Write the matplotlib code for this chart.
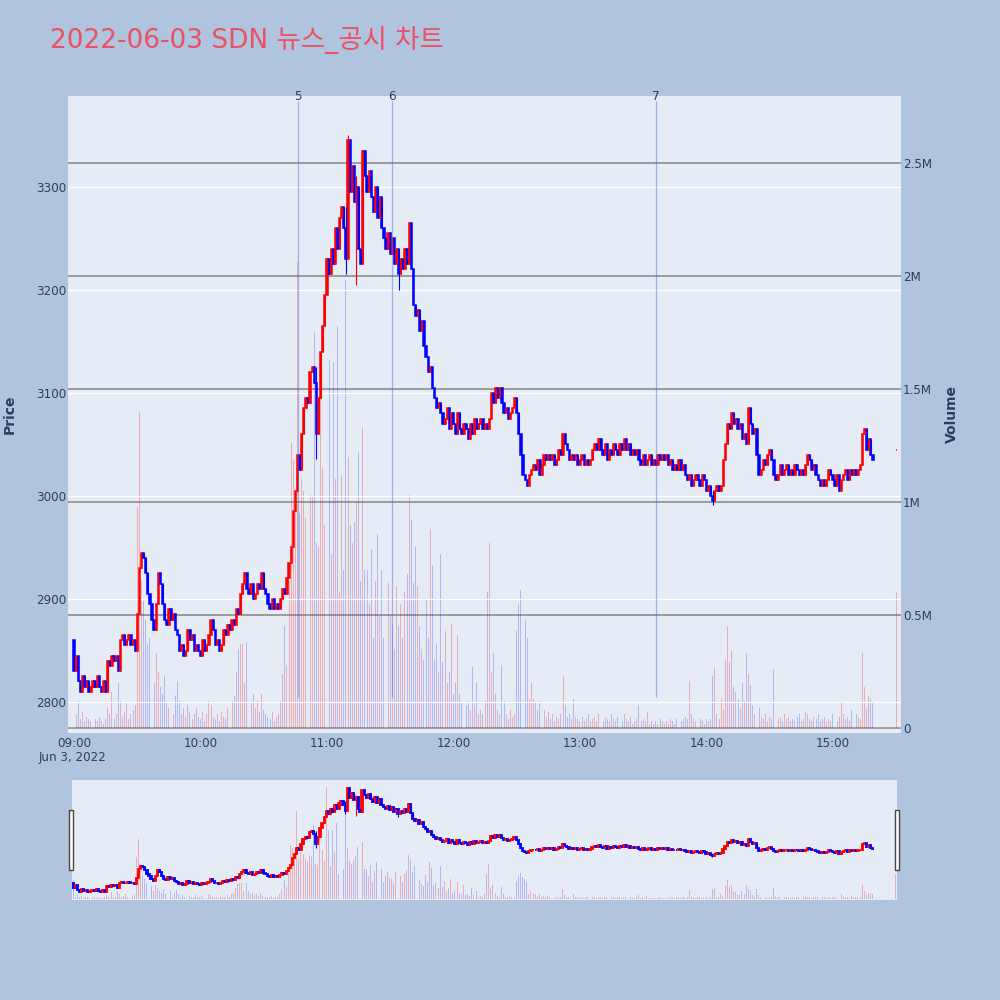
import numpy as np
import matplotlib.pyplot as plt
from matplotlib.patches import Rectangle

plt.rcParams['font.family'] = ['DejaVu Sans', 'Noto Sans CJK KR']

# 데이터 (분봉, 09:00 부터)
title = "2022-06-03 SDN 뉴스_공시 차트"
first_open = 2860
close = [
    2830, 2845, 2820, 2810, 2825, 2815, 2820, 2810, 2815, 2820,
    2815, 2825, 2815, 2810, 2820, 2810, 2840, 2835, 2845, 2840,
    2845, 2830, 2860, 2865, 2855, 2860, 2865, 2855, 2860, 2850,
    2885, 2930, 2945, 2940, 2925, 2905, 2895, 2880, 2870, 2895,
    2925, 2915, 2895, 2880, 2875, 2890, 2880, 2885, 2870, 2865,
    2850, 2855, 2845, 2850, 2870, 2860, 2865, 2850, 2855, 2850,
    2845, 2860, 2850, 2855, 2865, 2880, 2870, 2855, 2860, 2850,
    2855, 2870, 2865, 2875, 2870, 2880, 2875, 2890, 2885, 2905,
    2915, 2925, 2910, 2905, 2915, 2900, 2905, 2915, 2910, 2925,
    2910, 2905, 2895, 2890, 2900, 2890, 2895, 2890, 2900, 2910,
    2905, 2920, 2935, 2950, 2985, 3005, 3040, 3025, 3060, 3085,
    3095, 3090, 3120, 3125, 3110, 3060, 3095, 3140, 3165, 3195,
    3230, 3215, 3240, 3225, 3260, 3240, 3270, 3280, 3260, 3230,
    3345, 3295, 3320, 3285, 3300, 3240, 3225, 3335, 3310, 3295,
    3315, 3290, 3275, 3300, 3270, 3290, 3260, 3250, 3240, 3255,
    3235, 3250, 3225, 3240, 3215, 3230, 3220, 3240, 3225, 3265,
    3220, 3185, 3175, 3180, 3160, 3170, 3145, 3135, 3120, 3125,
    3105, 3095, 3085, 3090, 3080, 3070, 3075, 3085, 3065, 3080,
    3070, 3060, 3080, 3065, 3060, 3070, 3065, 3055, 3070, 3060,
    3075, 3065, 3070, 3075, 3065, 3070, 3065, 3075, 3100, 3090,
    3105, 3095, 3105, 3090, 3080, 3085, 3075, 3080, 3085, 3095,
    3080, 3060, 3040, 3020, 3015, 3010, 3020, 3025, 3030, 3025,
    3035, 3020, 3030, 3040, 3035, 3040, 3035, 3040, 3030, 3035,
    3045, 3040, 3060, 3050, 3045, 3035, 3040, 3035, 3040, 3030,
    3035, 3040, 3030, 3035, 3030, 3035, 3045, 3050, 3045, 3055,
    3045, 3040, 3050, 3035, 3045, 3040, 3050, 3045, 3040, 3050,
    3045, 3055, 3045, 3050, 3040, 3045, 3040, 3045, 3035, 3030,
    3040, 3030, 3035, 3040, 3030, 3035, 3030, 3040, 3035, 3040,
    3035, 3040, 3030, 3035, 3025, 3030, 3025, 3035, 3025, 3030,
    3020, 3015, 3020, 3010, 3015, 3020, 3015, 3010, 3020, 3015,
    3005, 3010, 3000, 2995, 3005, 3010, 3005, 3010, 3035, 3050,
    3070, 3065, 3080, 3070, 3075, 3065, 3070, 3055, 3060, 3050,
    3085, 3070, 3060, 3065, 3040, 3020, 3025, 3035, 3030, 3040,
    3045, 3035, 3020, 3015, 3020, 3030, 3020, 3025, 3030, 3020,
    3025, 3020, 3030, 3025, 3020, 3025, 3020, 3030, 3040, 3035,
    3025, 3030, 3020, 3015, 3010, 3015, 3010, 3015, 3025, 3020,
    3015, 3010, 3020, 3005, 3015, 3020, 3025, 3015, 3025, 3020,
    3025, 3020, 3025, 3030, 3060, 3065, 3045, 3055, 3040, 3035,
]
# 거래량 (천주)
volume_k = [
    450, 60, 120, 40, 70, 30, 50, 40, 30, 60,
    40, 30, 50, 30, 20, 40, 90, 60, 160, 40,
    60, 200, 120, 50, 70, 110, 40, 60, 80, 100,
    980, 1400, 650, 560, 480, 370, 400, 300, 200, 330,
    250, 180, 150, 230, 120, 90, 180, 60, 140, 210,
    120, 60, 90, 50, 100, 70, 40, 60, 90, 50,
    40, 70, 30, 60, 120, 100, 50, 40, 60, 30,
    70, 50, 40, 90, 60, 120, 140, 250, 350, 370,
    370, 200, 380, 190, 110, 150, 90, 120, 70, 150,
    80, 60, 50, 40, 70, 30, 50, 60, 120, 240,
    450, 280, 650, 1260, 1190, 1050, 2060, 950, 1100, 1050,
    930, 860, 1030, 1020, 1750, 820, 800, 1650, 1150, 900,
    2640, 1630, 770, 1620, 1100, 1780, 600, 1120, 700, 1980,
    1200, 900, 820, 910, 1000, 1220, 650, 1330, 700, 700,
    550, 790, 400, 650, 860, 500, 700, 400, 550, 640,
    500, 460, 350, 630, 450, 550, 400, 600, 680, 1030,
    920, 640, 800, 630, 450, 350, 300, 570, 400, 880,
    720, 300, 370, 250, 770, 290, 430, 200, 250, 460,
    150, 200, 410, 150, 120, 340, 100, 120, 80, 270,
    100, 200, 60, 80, 60, 120, 600, 820, 250, 330,
    150, 80, 60, 280, 120, 60, 40, 80, 50, 60,
    430, 550, 610, 520, 480, 400, 130, 200, 130, 110,
    80, 120, 60, 80, 50, 70, 40, 60, 30, 50,
    40, 60, 230, 100, 50, 60, 40, 130, 50, 40,
    30, 50, 30, 40, 60, 30, 40, 50, 30, 60,
    40, 30, 50, 40, 30, 60, 40, 30, 50, 40,
    30, 60, 40, 30, 50, 20, 30, 40, 100, 30,
    40, 30, 70, 20, 30, 20, 30, 20, 40, 30,
    20, 30, 20, 40, 30, 20, 40, 60, 30, 40,
    50, 40, 210, 60, 40, 30, 50, 40, 30, 20,
    40, 30, 40, 230, 270, 60, 40, 130, 80, 300,
    450, 290, 340, 180, 160, 130, 90, 200, 120, 330,
    240, 190, 100, 60, 240, 90, 50, 40, 60, 30,
    50, 40, 260, 70, 40, 50, 30, 60, 40, 50,
    30, 40, 30, 50, 60, 30, 40, 70, 60, 40,
    30, 50, 40, 60, 30, 40, 50, 30, 40, 30,
    60, 40, 30, 50, 110, 60, 40, 50, 30, 80,
    40, 60, 50, 40, 330, 180, 90, 140, 130, 110,
]
auction_minute = 390          # 15:30 동시호가
auction_price = 3045
auction_volume_k = 600
# 꼬리 (분: (저가, 고가))
wicks = {115: (3036, 3125), 129: (3215, 3280), 130: (3285, 3350),
         134: (3205, 3310), 154: (3200, 3240), 303: (2991, 3005)}
event_minutes = [106.3, 151.0, 276.0]
event_labels = ["5", "6", "7"]
hour_labels = ["09:00", "10:00", "11:00", "12:00", "13:00", "14:00", "15:00"]
price_ticks = [2800, 2900, 3000, 3100, 3200, 3300]
vol_ticks = [0, 0.5, 1, 1.5, 2, 2.5]
vol_tick_labels = ["0", "0.5M", "1M", "1.5M", "2M", "2.5M"]

minutes = np.r_[np.arange(len(close)), auction_minute]
c = np.array(close + [auction_price], dtype=float)
o = np.r_[first_open, close[:-1], auction_price].astype(float)
vol = np.array(volume_k + [auction_volume_k]) / 1000.0
lo = np.minimum(o, c)
hi = np.maximum(o, c)
wlo, whi = lo.copy(), hi.copy()
for m, (l, h) in wicks.items():
    wlo[m], whi[m] = l, h
up = c >= o
cols = np.where(up, "#ff0000", "#0000ff")
vcols = [(1, 0, 0, 0.27) if u else (0, 0, 1, 0.22) for u in up]

BG = "#B0C4DE"
PLOT = "#E5ECF6"
TXT = "#2a3f5f"
P_LIM = (2770, 3388)
V_LIM = (-0.022, 2.796)

fig = plt.figure(figsize=(10, 10), dpi=100, facecolor=BG)


def draw(ax_v, ax_p, body_lw):
    ax_v.bar(minutes, vol, width=0.45, color=vcols, linewidth=0)
    ax_p.vlines(minutes, wlo, whi, colors=cols, linewidth=0.8)
    ax_p.bar(minutes, np.maximum(hi - lo, 0.01), bottom=lo, width=0.6,
             color=cols, edgecolor=cols, linewidth=body_lw)
    ax_v.set_ylim(*V_LIM)
    ax_p.set_ylim(*P_LIM)
    for a in (ax_v, ax_p):
        for s in a.spines.values():
            s.set_visible(False)


# 메인 차트
ax_v = fig.add_axes([0.068, 0.267, 0.833, 0.637], facecolor=PLOT)
ax_p = ax_v.twinx()
ax_p.patch.set_visible(False)
draw(ax_v, ax_p, 1.1)
ax_v.set_xlim(-2.85, 392.3)

ax_v.yaxis.tick_right()
ax_v.set_yticks(vol_ticks, vol_tick_labels)
ax_v.grid(axis="y", color="#858585", linewidth=1.1)
ax_v.set_axisbelow(True)
ax_v.axhline(0, color="white", linewidth=1.6, zorder=0.5)
ax_p.yaxis.tick_left()
ax_p.set_yticks(price_ticks)
ax_p.grid(axis="y", color="white", linewidth=0.9)
ax_p.set_axisbelow(True)
ax_v.set_xticks(range(0, 361, 60), hour_labels)
ax_v.tick_params(axis="x", length=0, pad=3, labelsize=8.6, labelcolor=TXT)
ax_v.tick_params(axis="y", length=0, pad=1.5, labelsize=8.6, labelcolor=TXT)
ax_p.tick_params(axis="y", length=0, pad=1.5, labelsize=8.6, labelcolor=TXT)

for m, lab in zip(event_minutes, event_labels):
    ax_p.vlines(m, 2805, 3383, colors=(0.25, 0.41, 0.88, 0.45), linewidth=0.9)
    ax_p.text(m, 1.0, lab, ha="center", va="center", fontsize=8.6, color=TXT,
              clip_on=False, transform=ax_p.get_xaxis_transform())

fig.text(0.073, 1 - 0.757, "Jun 3, 2022", ha="center", va="center",
         fontsize=8.6, color=TXT)
fig.text(0.010, 1 - 0.414, "Price", rotation=90, ha="center", va="center",
         fontsize=10, fontweight="bold", color=TXT)
fig.text(0.952, 1 - 0.414, "Volume", rotation=90, ha="center", va="center",
         fontsize=10, fontweight="bold", color=TXT)
fig.text(0.050, 1 - 0.040, title, ha="left", va="center", fontsize=19,
         color="#EB5064")

# 레인지 슬라이더
sv = fig.add_axes([0.072, 0.100, 0.825, 0.120], facecolor=PLOT)
sp = sv.twinx()
sp.patch.set_visible(False)
draw(sv, sp, 1.3)
sv.set_xlim(-0.5, 390.5)
for a in (sv, sp):
    a.set_xticks([])
    a.set_yticks([])
for x0 in (0.0693, 0.895):
    fig.patches.append(Rectangle((x0, 0.130), 0.004, 0.060, transform=fig.transFigure,
                                 facecolor="white", edgecolor="#444444", linewidth=1))

plt.savefig("out.png", dpi=100, facecolor=BG)
